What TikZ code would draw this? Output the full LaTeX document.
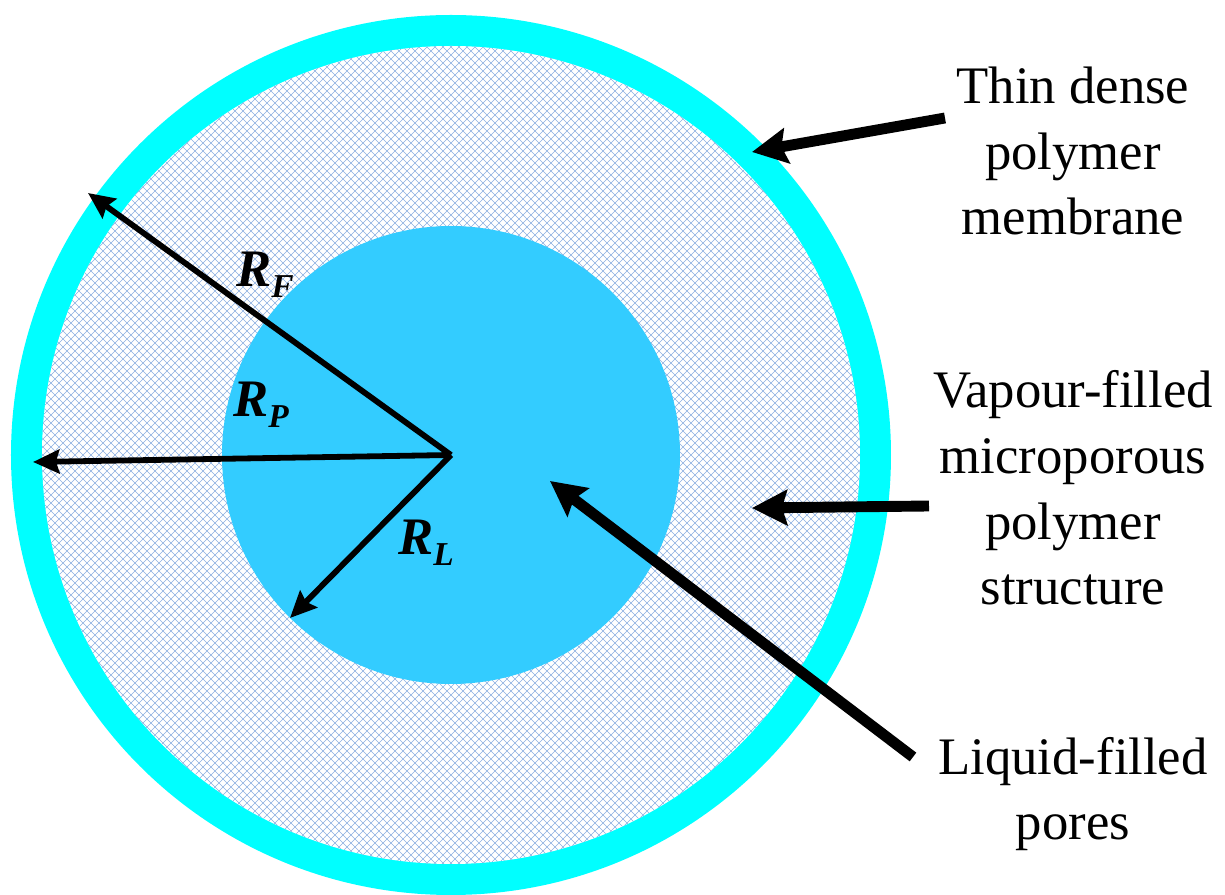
\documentclass[tikz,border=0pt]{standalone}
\usepackage{fontspec}
\setmainfont{Liberation Serif}
\usepackage{tikz}
\usetikzlibrary{arrows.meta}
\definecolor{filmcyan}  {RGB}{0,255,255}
\definecolor{liquidblue}{RGB}{51,204,255}
\definecolor{hatchblue} {RGB}{140,175,225}
\newcommand\radlab[1]{%
  \bfseries\itshape R\raisebox{-5.7pt}{\fontsize{19}{19}\selectfont #1}}
\tikzset{
  notetext/.style={align=center, anchor=base, inner sep=0pt,
    font=\fontsize{30}{37.4}\selectfont},
  radtext/.style={anchor=base, inner sep=0pt,
    font=\fontsize{30}{36}\selectfont},
  callout/.style={line width=6.2pt,
    -{Stealth[length=20pt, width=20pt, inset=3pt]}},
  radius/.style={line width=3.3pt,
    -{Stealth[length=15pt, width=13.5pt, inset=2pt]}},
}

\begin{document}
\begin{tikzpicture}[x=0.02cm, y=0.02cm]
\useasboundingbox (-451,-440) rectangle (774,455);
\coordinate (c) at (0,0);
% fibre cross-section: dense film, porous support, liquid core
\fill[filmcyan] (c) circle (440);
\fill[white] (c) circle (409);
\begin{scope}
  \clip (c) circle (409);
  \foreach \k in {-840,-832,...,840}{
    \draw[hatchblue, line width=0.35pt] (\k-420,-420) -- (\k+420,420);
    \draw[hatchblue, line width=0.35pt] (\k+420,-420) -- (\k-420,420);
  }
\end{scope}
\fill[liquidblue] (c) circle (229);
% radii
\coordinate (tipF) at (-363,262);
\coordinate (tipP) at (-418,-7);
\coordinate (tipL) at (-161,-163);
\draw[radius] (c) -- (tipF);
\draw[radius] (c) -- (tipP);
\draw[radius] (c) -- (tipL);
\node[radtext] (labF) at (-186,168) {\radlab{F}};
\node[radtext] (labP) at (-190,38) {\radlab{P}};
\node[radtext] (labL) at (-25,-100) {\radlab{L}};
% labels on the right (base = last line)
\node[notetext] (memtxt) at (622,220) {Thin dense\\polymer\\membrane};
\node[notetext] (vaptxt) at (622,-150) {Vapour-filled\\microporous\\polymer\\structure};
\node[notetext] (liqtxt) at (622,-385) {Liquid-filled\\pores};
\coordinate (memtail) at (494,337);
\coordinate (memtip)  at (301,303);
\coordinate (vaptail) at (478,-51);
\coordinate (vaptip)  at (301,-53);
\coordinate (liqtail) at (462,-302);
\coordinate (liqtip)  at (99,-26);
\draw[callout] (memtail) -- (memtip);
\draw[callout] (vaptail) -- (vaptip);
\draw[callout] (liqtail) -- (liqtip);
\end{tikzpicture}
\end{document}
